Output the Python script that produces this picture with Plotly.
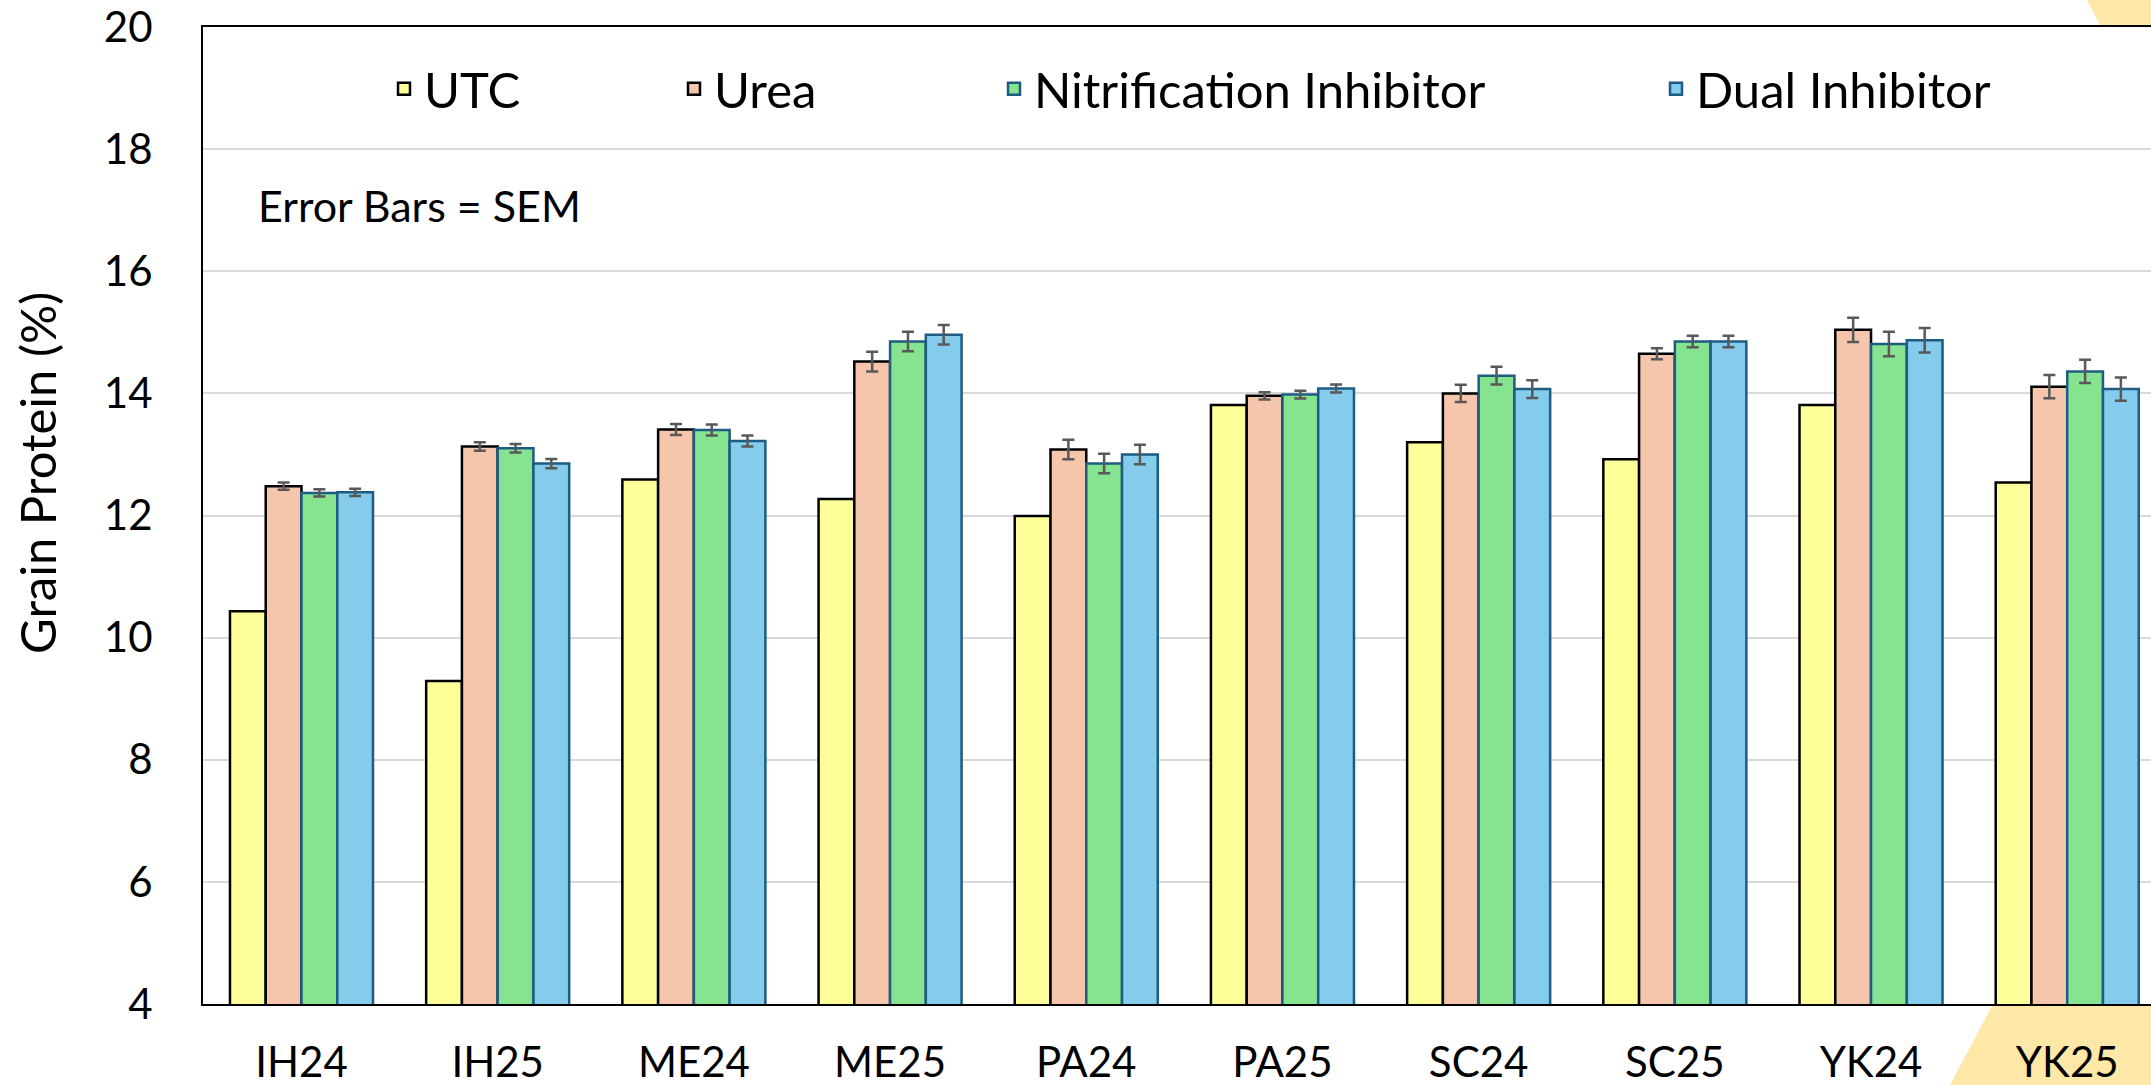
import plotly.graph_objects as go

sites = ["IH24", "IH25", "ME24", "ME25", "PA24", "PA25", "SC24", "SC25", "YK24", "YK25"]
series_names = ["UTC", "Urea", "Nitrification Inhibitor", "Dual Inhibitor"]

utc = [10.43, 9.29, 12.59, 12.27, 11.99, 13.81, 13.20, 12.92, 13.81, 12.54]
urea = [12.48, 13.13, 13.41, 14.52, 13.08, 13.96, 14.00, 14.65, 15.04, 14.11]
nitrif = [12.37, 13.10, 13.40, 14.85, 12.85, 13.98, 14.29, 14.85, 14.81, 14.36]
dual = [12.38, 12.85, 13.22, 14.96, 13.00, 14.08, 14.07, 14.85, 14.87, 14.07]

urea_sem = [0.06, 0.07, 0.09, 0.16, 0.16, 0.06, 0.14, 0.09, 0.20, 0.19]
nitrif_sem = [0.06, 0.07, 0.09, 0.16, 0.16, 0.065, 0.145, 0.095, 0.20, 0.19]
dual_sem = [0.06, 0.075, 0.09, 0.16, 0.16, 0.065, 0.145, 0.095, 0.20, 0.19]

y_ticks = [4, 6, 8, 10, 12, 14, 16, 18, 20]

W, H = 2151, 1085
ML, MR, MT, MB = 203, 0, 27, 81
PW, PH = W - ML - MR, H - MT - MB

def px(xp):
    return (xp - ML) / PW

def py(yp):
    return (H - MB - yp) / PH

FONT = "Lato"
fills = ["#FFFF99", "#F5C6AC", "#86E38F", "#85CBEB"]
edges = ["#000000", "#000000", "#1F5C84", "#1F5C84"]
values = [utc, urea, nitrif, dual]
errs = [None, urea_sem, nitrif_sem, dual_sem]
legend_ids = ["legend", "legend2", "legend3", "legend4"]
legend_x = [404, 694, 1014, 1676]  # symbol centres (px)

fig = go.Figure()
for i in range(4):
    kw = {}
    if errs[i] is not None:
        kw["error_y"] = dict(type="data", array=errs[i], visible=True,
                             color="#595959", thickness=2.5, width=6)
    fig.add_trace(go.Bar(
        x=sites, y=values[i], name=series_names[i], showlegend=True,
        marker=dict(color=fills[i], line=dict(color=edges[i], width=2.5)),
        legend=legend_ids[i], **kw))

leg_common = dict(orientation="h", yanchor="middle", xanchor="left", visible=True,
                  bgcolor="rgba(0,0,0,0)", font=dict(family=FONT, size=49, color="#000"))
layout_legends = {}
for i, lid in enumerate(legend_ids):
    layout_legends[lid] = dict(x=px(legend_x[i] - 20), y=py(89), **leg_common)

# decorative background wedges (slide theme)
shapes = [
    dict(type="path", xref="paper", yref="paper", layer="below",
         path=f"M {px(2087)} {py(0)} L {px(2151)} {py(0)} L {px(2151)} {py(27)} L {px(2101)} {py(27)} Z",
         fillcolor="#FEE8A8", line=dict(width=0)),
    dict(type="path", xref="paper", yref="paper", layer="below",
         path=f"M {px(1993)} {py(1004)} L {px(2151)} {py(1004)} L {px(2151)} {py(1085)} L {px(1950)} {py(1085)} Z",
         fillcolor="#FEE8A8", line=dict(width=0)),
]

fig.update_layout(
    width=W, height=H,
    margin=dict(l=ML, r=MR, t=MT, b=MB, pad=0, autoexpand=False),
    paper_bgcolor="white", plot_bgcolor="white",
    barmode="group", bargap=0.271, bargroupgap=0,
    font=dict(family=FONT, color="#000"),
    showlegend=True,
    shapes=shapes,
    annotations=[
        dict(text="Error Bars = SEM", xref="paper", yref="paper",
             x=px(256), y=py(206), xanchor="left", yanchor="middle",
             showarrow=False, font=dict(family=FONT, size=43, color="#000")),
        dict(text="Grain Protein (%)", xref="paper", yref="paper",
             x=px(37), y=py(473), xanchor="center", yanchor="middle", textangle=-90,
             showarrow=False, font=dict(family=FONT, size=49, color="#000")),
    ],
    **layout_legends,
)
fig.update_xaxes(range=[-0.502, 9.427], showline=True, linecolor="#000", linewidth=2,
                 mirror=True, ticks="", showgrid=False, automargin=False,
                 tickfont=dict(family=FONT, size=42, color="#000"), ticklabelstandoff=21)
fig.update_yaxes(range=[4, 20], tickvals=y_ticks, showline=True, linecolor="#000", linewidth=2,
                 ticks="", showgrid=True, gridcolor="#D9D9D9", gridwidth=2, zeroline=False,
                 automargin=False,
                 tickfont=dict(family=FONT, size=42, color="#000"), ticklabelstandoff=40)

fig.write_html("out.html", config={"displayModeBar": False},
               post_script="document.body.style.margin='0';document.body.style.overflow='hidden';")
